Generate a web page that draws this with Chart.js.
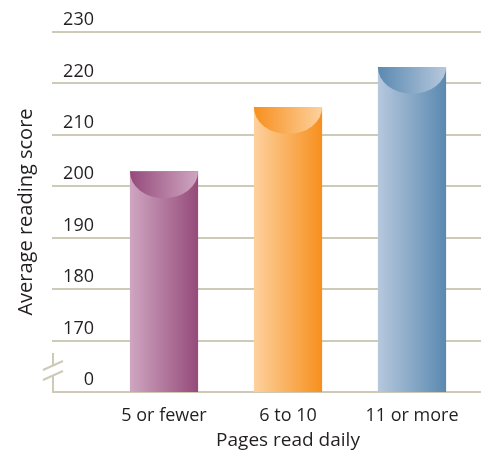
<!DOCTYPE html>
<html>
<head>
<meta charset="utf-8">
<script src="https://cdn.jsdelivr.net/npm/chart.js@4/dist/chart.umd.min.js"></script>
<style>
  html, body { margin: 0; padding: 0; background: #fff; }
  #wrap { width: 487px; height: 456px; }
</style>
</head>
<body>
<div id="wrap"><canvas id="myChart"></canvas></div>
<script>
// data
var categories = ['5 or fewer', '6 to 10', '11 or more'];
var scores = [202.9, 215.4, 223.2];
// axis is broken: the lowest gridline stands for 0
var axisBreakValue = 160;
var axisMax = 230;
var axisBreakLabel = '0';
var barLeftColors = ['#cfa6c1', '#fdd19e', '#b6c8dd'];
var barRightColors = ['#954a7a', '#f78f1d', '#5a89b0'];

var textColor = '#231f20';
var gridColor = '#cdcab8';

// light-to-dark fill on the bars, and the dark-to-light cup at the top
var cylinderPlugin = {
  id: 'cylinder',
  beforeDatasetsDraw: function(chart) {
    var ctx = chart.ctx;
    var area = chart.chartArea;
    var yScale = chart.scales.y;
    ctx.save();
    ctx.strokeStyle = gridColor;
    ctx.lineWidth = 2;
    yScale.ticks.forEach(function(t) {
      var y = Math.round(yScale.getPixelForValue(t.value));
      ctx.beginPath();
      ctx.moveTo(area.left - 50, y);
      ctx.lineTo(area.right + 7, y);
      ctx.stroke();
    });
    // axis break mark
    var yb = Math.round(yScale.getPixelForValue(axisBreakValue));
    var xb = area.left - 49;
    ctx.beginPath();
    ctx.moveTo(xb, yb);
    ctx.lineTo(xb, yb - 17);
    ctx.moveTo(xb, yb - 27);
    ctx.lineTo(xb, yb - 39);
    ctx.moveTo(xb - 10, yb - 12);
    ctx.lineTo(xb + 10, yb - 21);
    ctx.moveTo(xb - 10, yb - 22);
    ctx.lineTo(xb + 10, yb - 31);
    ctx.stroke();
    ctx.restore();

    var meta = chart.getDatasetMeta(0);
    meta.data.forEach(function(el, i) {
      var g = ctx.createLinearGradient(el.x - el.width / 2, 0, el.x + el.width / 2, 0);
      g.addColorStop(0, barLeftColors[i]);
      g.addColorStop(1, barRightColors[i]);
      el.options.backgroundColor = g;
    });
  },
  afterDatasetsDraw: function(chart) {
    var ctx = chart.ctx;
    var meta = chart.getDatasetMeta(0);
    meta.data.forEach(function(el, i) {
      var rx = el.width / 2;
      var g = ctx.createLinearGradient(el.x - rx, 0, el.x + rx, 0);
      g.addColorStop(0, barRightColors[i]);
      g.addColorStop(1, barLeftColors[i]);
      ctx.save();
      ctx.beginPath();
      ctx.ellipse(el.x, el.y, rx, rx * 0.79, 0, 0, Math.PI);
      ctx.closePath();
      ctx.fillStyle = g;
      ctx.fill();
      ctx.restore();
    });
  }
};

var ctx = document.getElementById('myChart').getContext('2d');
var myChart = new Chart(ctx, {
  type: 'bar',
  data: {
    labels: categories,
    datasets: [{
      data: scores,
      base: axisBreakValue,
      backgroundColor: barRightColors,
      borderWidth: 0,
      categoryPercentage: 0.55,
      barPercentage: 1
    }]
  },
  options: {
    responsive: true,
    maintainAspectRatio: false,
    animation: false,
    layout: { padding: { top: 32, right: 13, bottom: 4, left: 0 } },
    plugins: {
      legend: { display: false },
      tooltip: { enabled: false }
    },
    scales: {
      x: {
        grid: { display: false, drawTicks: false },
        border: { display: false },
        ticks: {
          color: textColor,
          font: { family: 'Open Sans', size: 18 },
          padding: 13,
          maxRotation: 0
        },
        title: {
          display: true,
          text: 'Pages read daily',
          color: textColor,
          font: { family: 'Open Sans', size: 19 },
          padding: { top: 2, bottom: 0 }
        },
        afterFit: function(scale) { scale.height = 60; }
      },
      y: {
        min: axisBreakValue,
        max: axisMax,
        grid: { display: false, drawTicks: false },
        border: { display: false },
        ticks: {
          stepSize: 10,
          color: textColor,
          font: { family: 'Open Sans', size: 18 },
          padding: 8,
          labelOffset: -12,
          callback: function(v) { return v === axisBreakValue ? axisBreakLabel : v; }
        },
        title: {
          display: true,
          text: 'Average reading score',
          color: textColor,
          font: { family: 'Open Sans', size: 20 },
          padding: { top: 14, bottom: 0 }
        },
        afterFit: function(scale) { scale.width = 102; }
      }
    }
  },
  plugins: [cylinderPlugin]
});
</script>
</body>
</html>
